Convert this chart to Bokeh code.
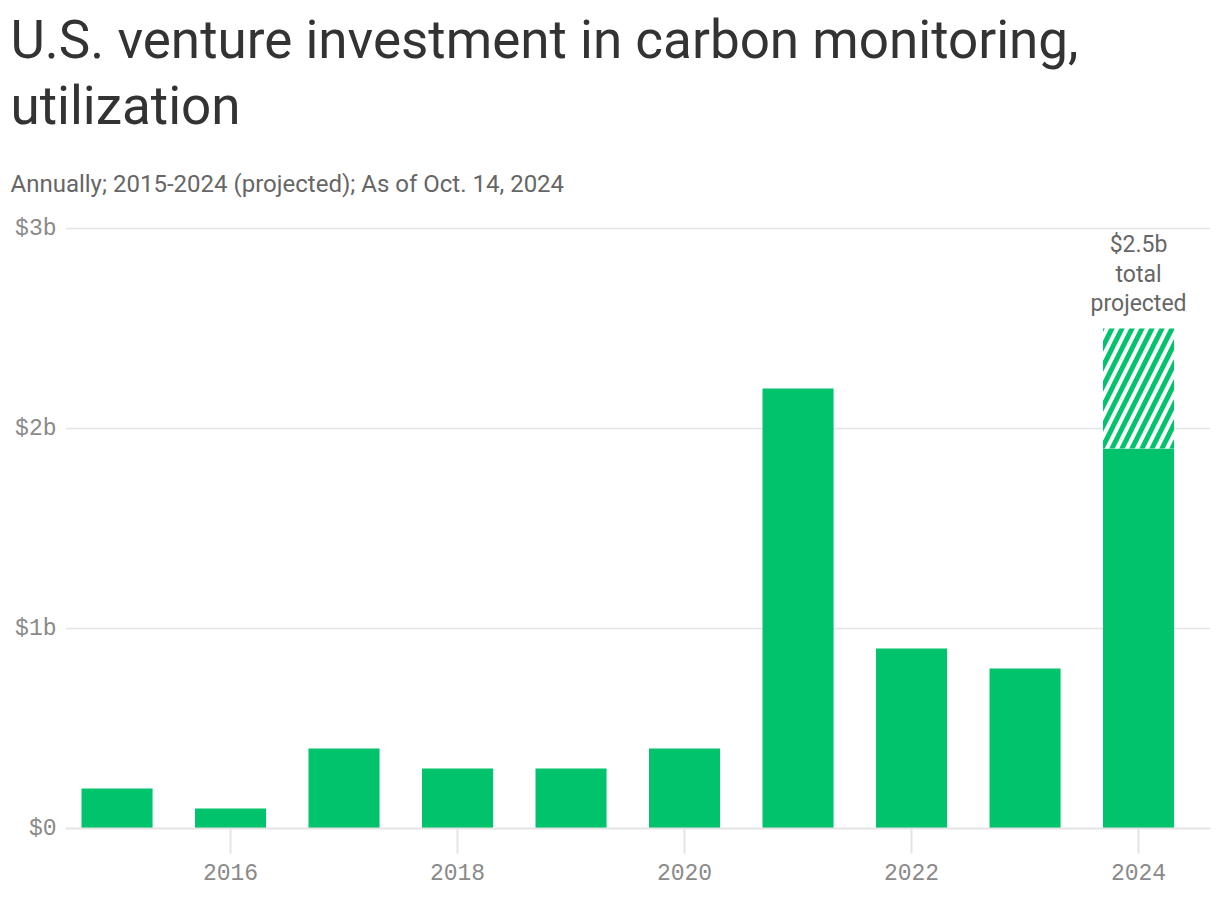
from bokeh.plotting import figure
from bokeh.models import Title, FixedTicker, ColumnDataSource
from bokeh.embed import file_html
from bokeh.resources import INLINE
from bokeh.core.properties import value

# ---- data ----
years = [2015, 2016, 2017, 2018, 2019, 2020, 2021, 2022, 2023, 2024]
invest = [0.2, 0.1, 0.4, 0.3, 0.3, 0.4, 2.2, 0.9, 0.8, 1.9]   # $ billions
proj_year = 2024
proj_actual = 1.9
proj_total = 2.5
proj_label = "$2.5b\ntotal\nprojected"
y_ticks = [0, 1, 2, 3]
y_labels = ["$0", "$1b", "$2b", "$3b"]
x_ticks = [2016, 2018, 2020, 2022, 2024]

GREEN = "#00c36b"
GRID = "#e4e4e4"

p = figure(width=1220, height=900,
           x_range=(2014.546, 2024.634), y_range=(0, 3.01),
           output_backend="svg", toolbar_location=None, title=None,
           min_border_left=65, min_border_right=10, min_border_bottom=72,
           min_border_top=226)

src = ColumnDataSource(dict(x=years, top=invest))
p.vbar(x="x", top="top", bottom=0, width=0.626, source=src,
       fill_color=GREEN, line_color=None)

# projected remainder, hatched
p.vbar(x=[proj_year], bottom=[proj_actual], top=[proj_total], width=0.626,
       fill_color="white", line_color=None,
       hatch_pattern="/", hatch_color=GREEN, hatch_scale=20, hatch_weight=5)

p.text(x=[proj_year], y=[proj_total + 0.055], text=[proj_label],
       text_align="center", text_baseline="bottom",
       text_font=value("Roboto"), text_font_size="23px", text_color="#666666",
       text_line_height=1.1)

# titles (added bottom-up)
for txt, size, color, standoff in [
    ("Annually; 2015-2024 (projected); As of Oct. 14, 2024", "24px", "#666666", 58),
    ("utilization", "53px", "#333333", 4),
    ("U.S. venture investment in carbon monitoring,", "53px", "#333333", 0),
]:
    p.add_layout(Title(text=txt, align="left", text_font="Roboto",
                       text_font_size=size, text_color=color,
                       text_font_style="normal", offset=-55,
                       standoff=standoff), "above")

# axes
p.xaxis.ticker = FixedTicker(ticks=x_ticks)
p.xaxis.axis_line_color = GRID
p.xaxis.axis_line_width = 2
p.xaxis.major_tick_line_color = GRID
p.xaxis.major_tick_line_width = 2
p.xaxis.major_tick_out = 25
p.xaxis.major_tick_in = 0
p.xaxis.minor_tick_line_color = None
p.xaxis.major_label_standoff = 10
p.xaxis.major_label_text_font = "Liberation Mono"
p.xaxis.major_label_text_font_size = "23px"
p.xaxis.major_label_text_color = "#8a8a8a"

p.yaxis.ticker = FixedTicker(ticks=y_ticks)
p.yaxis.major_label_overrides = {t: l for t, l in zip(y_ticks, y_labels)}
p.yaxis.axis_line_color = None
p.yaxis.major_tick_line_color = None
p.yaxis.minor_tick_line_color = None
p.yaxis.major_label_standoff = 3
p.yaxis.major_label_text_font = "Liberation Mono"
p.yaxis.major_label_text_font_size = "23px"
p.yaxis.major_label_text_color = "#8a8a8a"

p.xgrid.grid_line_color = None
p.ygrid.grid_line_color = GRID
p.ygrid.grid_line_width = 1.5
p.outline_line_color = None

open("out.html", "w").write(file_html(p, INLINE))
